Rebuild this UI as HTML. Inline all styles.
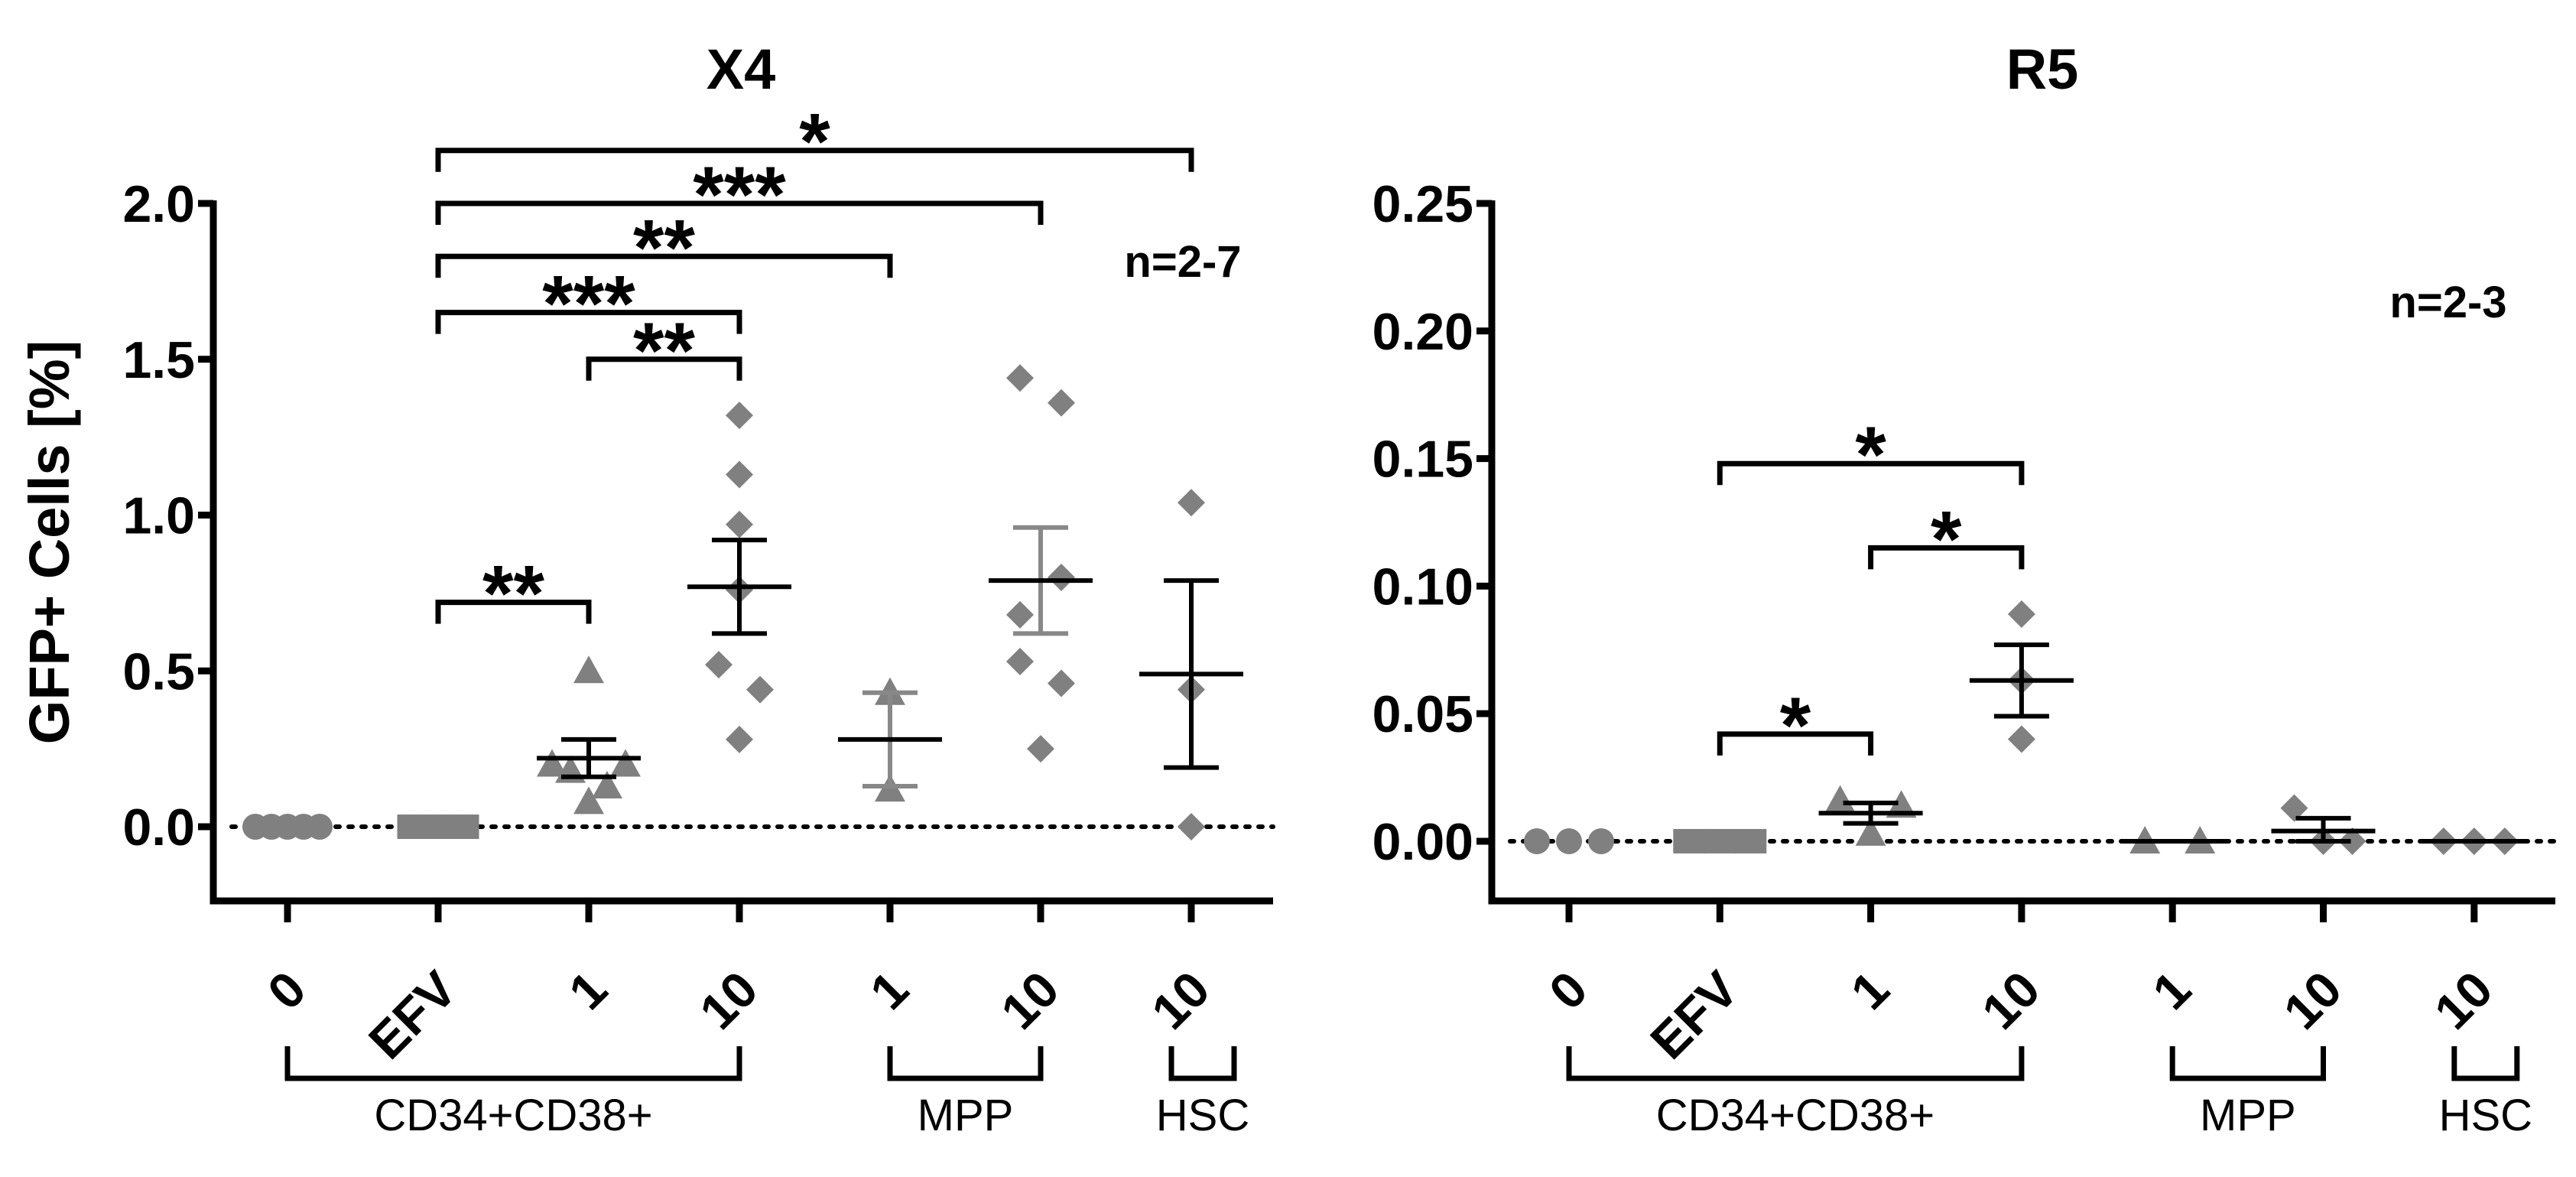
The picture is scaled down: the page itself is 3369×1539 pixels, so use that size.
<!DOCTYPE html>
<html><head><meta charset="utf-8"><style>
html,body{margin:0;padding:0;background:#fff;overflow:hidden;}
svg{display:block;font-family:"Liberation Sans",Arial,sans-serif;}
</style></head><body>
<svg id="chart" width="3369" height="1539" viewBox="0 0 3369 1539" xmlns="http://www.w3.org/2000/svg"></svg>
<script>
const categories = ["0","EFV","1","10","1","10","10"];
const markers = ["circle","square","triangle","diamond","triangle","diamond","diamond"];
// X4 panel data
const x4Values = [
  [0,0,0,0,0],
  [0,0,0,0,0],
  [0.5,0.2,0.18,0.13,0.2,0.08],
  [1.32,1.13,0.97,0.76,0.52,0.44,0.28],
  [0.43,0.12],
  [1.44,1.36,0.8,0.68,0.53,0.46,0.25],
  [1.04,0.44,0]
];
const x4Jitter = [[-2,-1,0,1,2],[-2,-1,0,1,2],[0,-2,-1,1,2,0],[0,0,0,0,-1,1,0],[0,0],[-1,1,1,-1,-1,1,0],[0,0,0]];
const x4Mean = [0,0,0.22,0.77,0.28,0.79,0.49];
const x4Upper = [0,0,0.28,0.92,0.43,0.96,0.79];
const x4Lower = [0,0,0.16,0.62,0.13,0.62,0.19];
const x4ErrGray = [false,false,false,false,true,true,false];
const x4Ticks = [0,0.5,1.0,1.5,2.0];
const x4TickLabels = ["0.0","0.5","1.0","1.5","2.0"];
const x4Sig = [[1,6,"*"],[1,5,"***"],[1,4,"**"],[1,3,"***"],[2,3,"**"],[1,2,"**"]];
const x4SigLevel = [2.17,2.0,1.83,1.65,1.5,0.72];
// R5 panel data
const r5Values = [
  [0,0,0],
  [0,0,0],
  [0.016,0.003,0.014],
  [0.089,0.063,0.04],
  [0,0],
  [0.013,0,0],
  [0,0,0]
];
const r5Jitter = [[-1,0,1],[-1,0,1],[-1,0,1],[0,0,0],[-1,1],[-1,0,1],[-1,0,1]];
const r5Mean = [0,0,0.011,0.063,0,0.004,0];
const r5Upper = [0,0,0.015,0.077,0,0.009,0];
const r5Lower = [0,0,0.007,0.049,0,0,0];
const r5Ticks = [0,0.05,0.10,0.15,0.20,0.25];
const r5TickLabels = ["0.00","0.05","0.10","0.15","0.20","0.25"];
const r5Sig = [[1,3,"*"],[2,3,"*"],[1,2,"*"]];
const r5SigLevel = [0.148,0.115,0.042];

const NS="http://www.w3.org/2000/svg";
const svg=document.getElementById('chart');
function mk(tag,attrs,parent){const e=document.createElementNS(NS,tag);for(const k in attrs)e.setAttribute(k,attrs[k]);(parent||svg).appendChild(e);return e;}

function panel(cfg){
  const g=mk('g',{});
  
  
  const y=v=>cfg.y0-(v-cfg.ymin)/(cfg.ymax-cfg.ymin)*(cfg.y0-cfg.y1);
  const x=i=>cfg.xFirst+i*cfg.xStep;
  const t=mk('text',{x:cfg.titleX,y:116,'font-size':74,'font-weight':'bold','text-anchor':'middle'},g);
  t.textContent=cfg.title;
  
  
  const n=mk('text',{x:cfg.nX,y:cfg.nY,'font-size':58,'font-weight':'bold','text-anchor':'middle'},g);
  n.textContent=cfg.nText;
  
  
  const ax=mk('path',{d:`M${cfg.axX},${y(cfg.ymax)-4} L${cfg.axX},${cfg.y0} L${cfg.axEnd},${cfg.y0}`,stroke:'#000','stroke-width':9,fill:'none'},g);
  
  
  cfg.ticks.forEach((v,i)=>{
    mk('line',{x1:cfg.axX-20,x2:cfg.axX,y1:y(v),y2:y(v),stroke:'#000','stroke-width':9},g);
    const tl=mk('text',{x:cfg.axX-24,y:y(v)+24,'font-size':68,'font-weight':'bold','text-anchor':'end'},g);
    tl.textContent=cfg.tickLabels[i];
    
    
  });
  const zl=mk('line',{x1:cfg.axX+24,x2:cfg.axEnd,y1:y(0),y2:y(0),stroke:'#000','stroke-width':6,'stroke-dasharray':'5 12','stroke-linecap':'round'},g);
  
  
  categories.forEach((c,i)=>{
    mk('line',{x1:x(i),x2:x(i),y1:cfg.y0,y2:cfg.y0+28,stroke:'#000','stroke-width':9},g);
    const lx=x(i)+28, ly=1298;
    const tl=mk('text',{x:lx,y:ly,'font-size':66,'font-weight':'bold','text-anchor':'end',transform:`rotate(-45 ${lx} ${ly})`},g);
    tl.textContent=c;
    
    
  });
  [[0,3,"CD34+CD38+"],[4,5,"MPP"],[6,6,"HSC"]].forEach(([a,b,lab])=>{
    let xa=x(a), xb=x(b);
    if(a===b){xa-=26;xb+=56;}
    mk('path',{d:`M${xa},1368 L${xa},1410 L${xb},1410 L${xb},1368`,stroke:'#000','stroke-width':7,fill:'none'},g);
    const tl=mk('text',{x:(xa+xb)/2,y:1478,'font-size':58,'text-anchor':'middle'},g);
    tl.textContent=lab;
    
    
  });
  const col='#808080', s=18;
  cfg.values.forEach((arr,i)=>{
    const step=cfg.zeroStep[i];
    arr.forEach((v,j)=>{
      const px=x(i)+cfg.jitter[i][j]*step, py=y(v);
      let m;
      if(markers[i]==='circle') m=mk('circle',{cx:px,cy:py,r:17,fill:col},g);
      else if(markers[i]==='square') m=mk('rect',{x:px-step/2-1,y:py-16,width:step+2,height:32,fill:col},g);
      else if(markers[i]==='triangle') m=mk('polygon',{points:`${px},${py-s-2} ${px+s+2},${py+s-2} ${px-s-2},${py+s-2}`,fill:col},g);
      else m=mk('polygon',{points:`${px},${py-s} ${px+s},${py} ${px},${py+s} ${px-s},${py}`,fill:col},g);
      
      
    });
    if(i>=2){
      const ec=(cfg.errGray&&cfg.errGray[i])?'#888':'#000';
      const eb=mk('path',{d:`M${x(i)-36},${y(cfg.upper[i])} L${x(i)+36},${y(cfg.upper[i])} M${x(i)},${y(cfg.upper[i])} L${x(i)},${y(cfg.lower[i])} M${x(i)-36},${y(cfg.lower[i])} L${x(i)+36},${y(cfg.lower[i])}`,stroke:ec,'stroke-width':6,fill:'none'},g);
      
      
      const ml=mk('line',{x1:x(i)-68,x2:x(i)+68,y1:y(cfg.mean[i]),y2:y(cfg.mean[i]),stroke:'#000','stroke-width':6},g);
      
      
    }
  });
  cfg.sig.forEach(([a,b,lab],k)=>{
    const yy=y(cfg.sigLevel[k]);
    const br=mk('path',{d:`M${x(a)},${yy+28} L${x(a)},${yy} L${x(b)},${yy} L${x(b)},${yy+28}`,stroke:'#000','stroke-width':7,fill:'none'},g);
    
    
    const st=mk('text',{x:(x(a)+x(b))/2,y:yy+24,'font-size':104,'font-weight':'bold','text-anchor':'middle'},g);
    st.textContent=lab;
    
    
  });
}

panel({name:'x4-panel',title:'X4',titleX:969,nX:1547,nY:362,nText:'n=2-7',axX:279,axEnd:1665,y0:1178,y1:266,ymin:-0.238,ymax:2.0,
  xFirst:376,xStep:197,ticks:x4Ticks,tickLabels:x4TickLabels,values:x4Values,jitter:x4Jitter,zeroStep:[21,21,24,27,0,27,0],
  mean:x4Mean,upper:x4Upper,lower:x4Lower,errGray:x4ErrGray,sig:x4Sig,sigLevel:x4SigLevel});
panel({name:'r5-panel',title:'R5',titleX:2671,nX:3202,nY:415,nText:'n=2-3',axX:1951,axEnd:3342,y0:1178,y1:266,ymin:-0.0234,ymax:0.25,
  xFirst:2052,xStep:197.3,ticks:r5Ticks,tickLabels:r5TickLabels,values:r5Values,jitter:r5Jitter,zeroStep:[42,40,40,0,36,38,40],
  mean:r5Mean,upper:r5Upper,lower:r5Lower,errGray:null,sig:r5Sig,sigLevel:r5SigLevel});

const yt=mk('text',{x:0,y:0,'font-size':74,'font-weight':'bold','text-anchor':'middle',transform:'translate(90 709) rotate(-90)'});
yt.textContent='GFP+ Cells [%]';


</script>
</body></html>
